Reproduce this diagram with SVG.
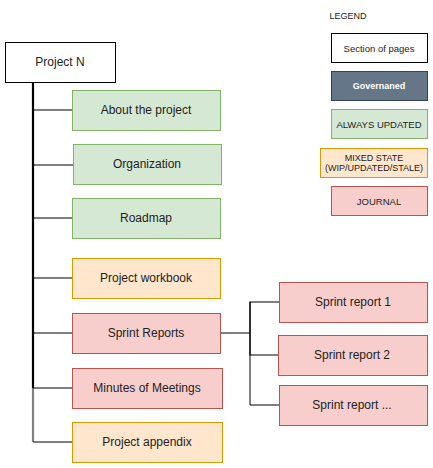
<svg xmlns="http://www.w3.org/2000/svg" width="433" height="468" viewBox="0 0 433 468">
<style>
text{font-family:"Liberation Sans",Arial,sans-serif;fill:#222;text-anchor:middle;dominant-baseline:central}
.m{font-size:12px}
.l{font-size:9.5px}
.s{font-size:9px}
.w{fill:#fff;stroke:#000}
.g{fill:#d5e8d4;stroke:#82b366}
.o{fill:#ffe6cc;stroke:#d79b00}
.r{fill:#f8cecc;stroke:#b85450}
.b{fill:#647687;stroke:#314354}
.c{fill:none;stroke:#000;stroke-width:1.2}
</style>
<rect width="433" height="468" fill="#fff"/>
<g id="connectors">
<line x1="33" y1="82" x2="33" y2="388" stroke="#000" stroke-width="2.2"/>
<line x1="33" y1="388" x2="33" y2="442" stroke="#808080" stroke-width="2.2"/>
<path class="c" d="M33 110H72M33 165H73M33 218H72M33 278H72M33 333H72M33 388H72M33 442H72"/>
<line x1="250" y1="302" x2="250" y2="405" stroke="#808080" stroke-width="2"/>
<path class="c" d="M221 333H250V302H279M250 333V355H278M250 405H279"/>
</g>
<g id="project-n"><rect class="w" x="5.5" y="42.5" width="110" height="40"/><text class="m" x="60" y="62">Project N</text></g>
<g id="about"><rect class="g" x="72.5" y="90.5" width="148" height="40"/><text class="m" x="146" y="110">About the project</text></g>
<g id="organization"><rect class="g" x="73.5" y="144.5" width="148" height="40"/><text class="m" x="147" y="164">Organization</text></g>
<g id="roadmap"><rect class="g" x="72.5" y="198.5" width="148" height="40"/><text class="m" x="146" y="218">Roadmap</text></g>
<g id="workbook"><rect class="o" x="72.5" y="258.5" width="148" height="40"/><text class="m" x="146" y="278">Project workbook</text></g>
<g id="sprint-reports"><rect class="r" x="72.5" y="313.5" width="148" height="40"/><text class="m" x="146" y="333">Sprint Reports</text></g>
<g id="minutes"><rect class="r" x="72.5" y="368.5" width="150" height="40"/><text class="m" x="147" y="388">Minutes of Meetings</text></g>
<g id="appendix"><rect class="o" x="72.5" y="422.5" width="150" height="40"/><text class="m" x="147" y="442">Project appendix</text></g>
<g id="sprint-1"><rect class="r" x="279.5" y="282.5" width="148" height="40"/><text class="m" x="353" y="302">Sprint report 1</text></g>
<g id="sprint-2"><rect class="r" x="278.5" y="335.5" width="149" height="40"/><text class="m" x="352" y="355">Sprint report 2</text></g>
<g id="sprint-n"><rect class="r" x="279.5" y="385.5" width="148" height="40"/><text class="m" x="352" y="405">Sprint report ...</text></g>
<g id="legend">
<text class="s" x="348" y="16">LEGEND</text>
<rect class="w" x="331.5" y="33.5" width="96" height="29"/><text class="l" x="379" y="48">Section of pages</text>
<rect class="b" x="331.5" y="71.5" width="96" height="29"/><text class="s" x="379" y="86" style="fill:#fff;font-weight:bold">Governaned</text>
<rect class="g" x="331.5" y="109.5" width="96" height="29"/><text class="l" x="379" y="124">ALWAYS UPDATED</text>
<rect class="o" x="320.5" y="148.5" width="107" height="29"/><text class="s" x="374" y="158">MIXED STATE</text><text class="s" x="374" y="168">(WIP/UPDATED/STALE)</text>
<rect class="r" x="331.5" y="186.5" width="96" height="29"/><text class="l" x="379" y="201">JOURNAL</text>
</g>
</svg>
